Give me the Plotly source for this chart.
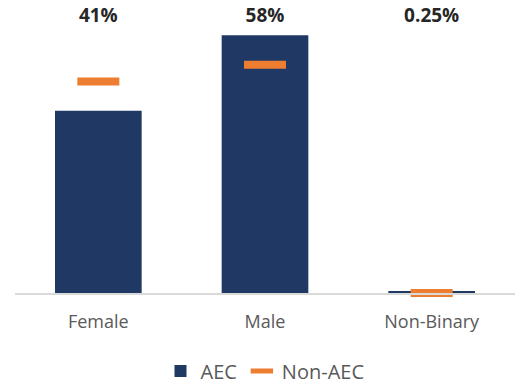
import plotly.graph_objects as go

categories = ["Female", "Male", "Non-Binary"]
aec = [41.0, 58.0, 0.25]
non_aec = [47.6, 51.4, 0.0]
top_labels = ["41%", "58%", "0.25%"]
label_level = [62, 62, 62]

fig = go.Figure()
fig.add_trace(go.Bar(
    x=categories, y=aec, name="AEC",
    marker=dict(color="#203864", line=dict(width=0)),
))
fig.add_trace(go.Scatter(
    x=categories, y=non_aec, name="Non-AEC", mode="markers",
    marker=dict(symbol="line-ew", size=30, color="#ED7D31",
                line=dict(color="#ED7D31", width=8)),
    cliponaxis=False,
))
fig.add_trace(go.Scatter(
    x=categories, y=label_level, mode="text", text=top_labels,
    textposition="middle center", showlegend=False, hoverinfo="skip",
    textfont=dict(family="Open Sans", size=19, color="#262626", weight="bold"),
    cliponaxis=False,
))

fig.update_layout(
    width=523, height=385,
    margin=dict(l=15, r=8, t=10, b=92),
    plot_bgcolor="white", paper_bgcolor="white",
    bargap=0.48,
    showlegend=True,
    legend=dict(orientation="h", x=0.5, xanchor="center",
                y=1 - 371 / 385, yanchor="middle", yref="container",
                font=dict(family="Open Sans", size=20, color="#595959"),
                itemwidth=30),
    font=dict(family="Open Sans", color="#595959"),
)
fig.update_xaxes(showline=True, linecolor="#D9D9D9", linewidth=1.5,
                 tickfont=dict(family="Open Sans", size=18, color="#595959"),
                 ticks="", showgrid=False, ticklabelstandoff=12, automargin=False)
fig.update_yaxes(range=[0, 63.7], visible=False, showgrid=False, zeroline=False)

fig.write_html("out.html")
